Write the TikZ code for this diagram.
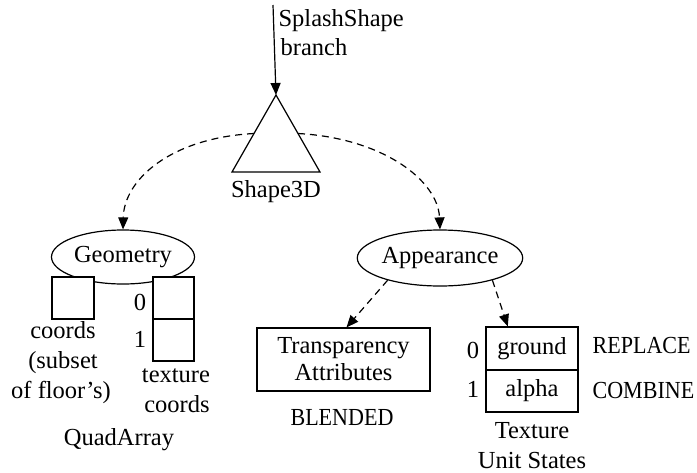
\documentclass[tikz,border=0pt]{standalone}
\usepackage{fontspec}
\setmainfont{Liberation Serif}
\usetikzlibrary{arrows.meta,shapes.geometric,calc}
\newcommand{\narrowcaps}[1]{\scalebox{0.9}[1]{#1}}
\begin{document}
\begin{tikzpicture}[x=1pt,y=-1pt,line width=1.2pt,
  txt/.style={font=\fontsize{24.5}{27}\selectfont},
  lbl/.style={txt,anchor=base,inner sep=0pt},
  lblw/.style={txt,anchor=base west,inner sep=0pt},
  oval/.style={txt,draw,ellipse,inner sep=0pt},
  cell/.style={txt,draw,fill=white,rectangle,inner sep=0pt},
  tip/.style={-{Triangle[length=12pt,width=10pt]}},
  dashlink/.style={tip,dash pattern=on 7pt off 5pt}]
\useasboundingbox (0,0) rectangle (697,472);

% Shape3D triangle
\coordinate (apex) at (276,95);
\coordinate (bl) at (232,172);
\coordinate (br) at (320,172);
\draw (apex) -- (bl) -- (br) -- cycle;
\node[lbl] (shapelbl) at (276,197) {Shape3D};

% incoming branch
\coordinate (branchtop) at (273,5);
\draw[tip] (branchtop) -- (apex);
\node[lblw] (splash) at (278,26) {SplashShape};
\node[lblw] (branch) at (280,55) {branch};

% Geometry side
\node[oval,minimum width=143pt,minimum height=54pt] (geo) at (123,257) {Geometry};
\node[cell,minimum width=42pt,minimum height=42pt] (coordbox) at (73,298) {};
\node[cell,minimum width=41pt,minimum height=42pt] (tc0) at (173.5,298) {};
\node[cell,minimum width=41pt,minimum height=42pt] (tc1) at (173.5,340) {};
\node[lbl] (tc0lbl) at (140,310) {0};
\node[lbl] (tc1lbl) at (140,347) {1};
\node[lbl] (c1) at (63,338) {coords};
\node[lbl] (c2) at (63,368) {(subset};
\node[lbl] (c3) at (61,398) {of floor's)};
\node[lbl] (t1) at (176,382) {texture};
\node[lbl] (t2) at (177,412) {coords};
\node[lbl] (quad) at (119,445) {QuadArray};

% Appearance side
\node[oval,minimum width=145pt,minimum height=56pt] (app) at (440,258) {Appearance};
\node[cell,minimum width=173pt,minimum height=63pt,align=center] (tr) at (343.5,359.5) {Transparency\\Attributes};
\node[lbl] (blend) at (342,425) {\narrowcaps{BLENDED}};
\node[cell,minimum width=92pt,minimum height=43pt] (tu0) at (532,348.5) {ground};
\node[cell,minimum width=92pt,minimum height=42pt] (tu1) at (532,391) {alpha};
\node[lbl] (tu0lbl) at (473,358) {0};
\node[lbl] (tu1lbl) at (473,397) {1};
\node[lblw] (rep) at (592,353) {\narrowcaps{REPLACE}};
\node[lblw] (comb) at (592,398) {\narrowcaps{COMBINE}};
\node[lbl] (tx1) at (532,438) {Texture};
\node[lbl] (tx2) at (532,468) {Unit States};

% dashed links
\coordinate (lside) at ($(apex)!0.5!(bl)$);
\coordinate (rside) at ($(apex)!0.5!(br)$);
\draw[dashlink] (lside) .. controls (170,138) and (124,180) .. (geo.north);
\draw[dashlink] (rside) .. controls (382,138) and (438,180) .. (app.north);
\draw[dashlink] (app.203) -- ($(tr.north)+(3,0)$);
\draw[dashlink] (app.337) -- ($(tu0.north west)!0.24!(tu0.north east)$);
\end{tikzpicture}
\end{document}
